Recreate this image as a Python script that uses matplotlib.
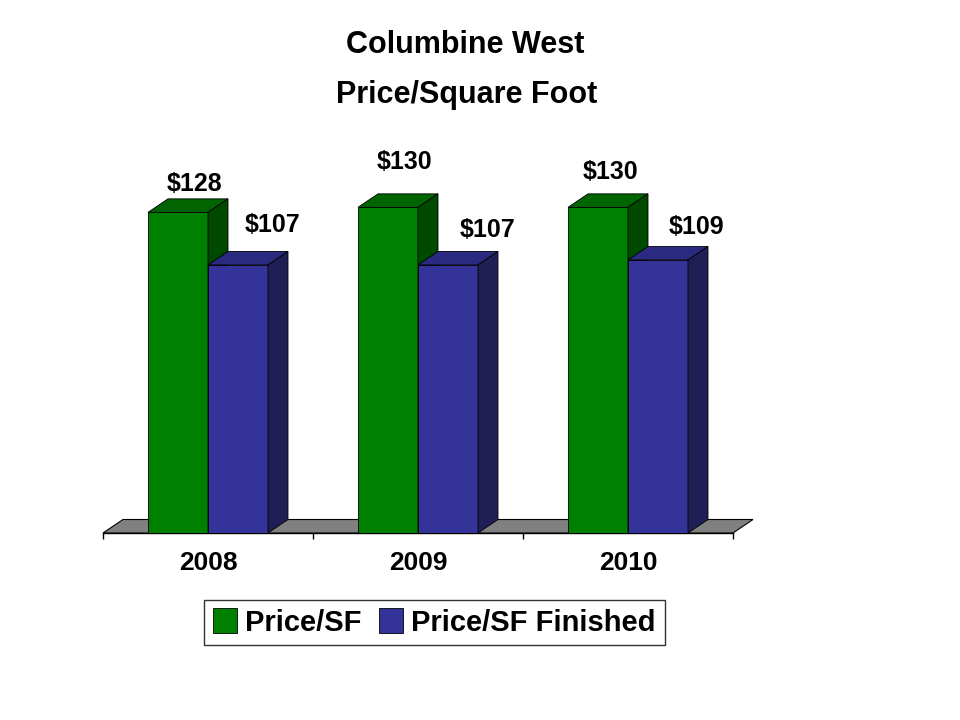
import numpy as np
import matplotlib.pyplot as plt
from matplotlib.patches import Polygon

# data
years = ['2008', '2009', '2010']
price_sf = [128, 130, 130]
price_sf_finished = [107, 107, 109]
series_names = ['Price/SF', 'Price/SF Finished']

# label nudges in pixels (x right, baseline above bar top), hand placed like the original
label_nudge_sf = [(16, 21), (16, 38), (12, 28)]
label_nudge_fin = [(35, 33), (40, 28), (38, 26)]

plt.rcParams['font.family'] = ['Liberation Sans', 'DejaVu Sans']

W, H = 960, 720
fig = plt.figure(figsize=(W / 100, H / 100), dpi=100)

# plot area in pixels
left, right, top, bottom = 103, 733, 133, 533
px_per_unit = 2.505
ax = fig.add_axes([left / W, 1 - bottom / H, (right - left) / W, (bottom - top) / H])
ymax = (bottom - top) / px_per_unit
ax.set_xlim(-0.5, len(years) - 0.5)
ax.set_ylim(0, ymax)

# 3d depth, converted from pixels to data units
dx = 20 / ((right - left) / len(years))
dy = 13.5 / px_per_unit

colors = {
    'sf': ('#008000', '#006400', '#004a00'),
    'fin': ('#333399', '#2a2a80', '#1f1f55'),
}

# floor
floor = Polygon([(-0.5, 0), (len(years) - 0.5, 0), (len(years) - 0.5 + dx, dy), (-0.5 + dx, dy)],
                closed=True, facecolor='#808080', edgecolor='black', lw=0.8, zorder=1, clip_on=False)
ax.add_patch(floor)

x = np.arange(len(years))
w = 60 / ((right - left) / len(years))


def draw_3d(bars, cols, z):
    front, topc, side = cols
    for b in bars:
        x0 = b.get_x()
        x1 = x0 + b.get_width()
        h = b.get_height()
        top_face = Polygon([(x0, h), (x1, h), (x1 + dx, h + dy), (x0 + dx, h + dy)],
                           closed=True, facecolor=topc, edgecolor='black', lw=0.6, zorder=z, clip_on=False)
        side_face = Polygon([(x1, 0), (x1 + dx, dy), (x1 + dx, h + dy), (x1, h)],
                            closed=True, facecolor=side, edgecolor='black', lw=0.6, zorder=z, clip_on=False)
        ax.add_patch(top_face)
        ax.add_patch(side_face)


bars1 = ax.bar(x - w / 2, price_sf, w, color=colors['sf'][0], edgecolor='black', lw=0.6,
               zorder=2, label=series_names[0])
draw_3d(bars1, colors['sf'], 2)
bars2 = ax.bar(x + w / 2, price_sf_finished, w, color=colors['fin'][0], edgecolor='black', lw=0.6,
               zorder=3, label=series_names[1])
draw_3d(bars2, colors['fin'], 3)

# value labels
for bars, nudges in [(bars1, label_nudge_sf), (bars2, label_nudge_fin)]:
    for b, (ox, oy) in zip(bars, nudges):
        ax.annotate(f'${b.get_height():.0f}', xy=(b.get_x() + b.get_width() / 2, b.get_height()),
                    xytext=(ox * 0.72, oy * 0.72), textcoords='offset points',
                    ha='center', va='baseline', fontsize=18, fontweight='bold', zorder=5)

# axis
for s in ['top', 'right', 'left']:
    ax.spines[s].set_visible(False)
ax.spines['bottom'].set_linewidth(1)
ax.spines['bottom'].set_zorder(0.5)
ax.set_yticks([])
ax.set_xticks(x)
ax.set_xticklabels(years, fontsize=19, fontweight='bold')
ax.set_xticks(np.arange(len(years) + 1) - 0.5, minor=True)
ax.tick_params(axis='x', which='major', length=0, pad=13)
ax.tick_params(axis='x', which='minor', length=4, width=1, direction='out')

# titles
fig.text(465 / W, 1 - 53 / H, 'Columbine West', ha='center', va='baseline', fontsize=22, fontweight='bold')
fig.text(467 / W, 1 - 103 / H, 'Price/Square Foot', ha='center', va='baseline', fontsize=22, fontweight='bold')

leg = fig.legend(handles=[bars1, bars2], labels=series_names, loc='center',
                 bbox_to_anchor=(434.5 / W, 1 - 622.5 / H), ncol=2,
                 prop={'weight': 'bold', 'size': 21}, frameon=True, fancybox=False,
                 handlelength=0.8, handleheight=0.9, handletextpad=0.3, columnspacing=0.6,
                 borderpad=0.3, borderaxespad=0)
leg.get_frame().set_edgecolor('black')
leg.get_frame().set_linewidth(1)

plt.savefig('out.png', dpi=100)
